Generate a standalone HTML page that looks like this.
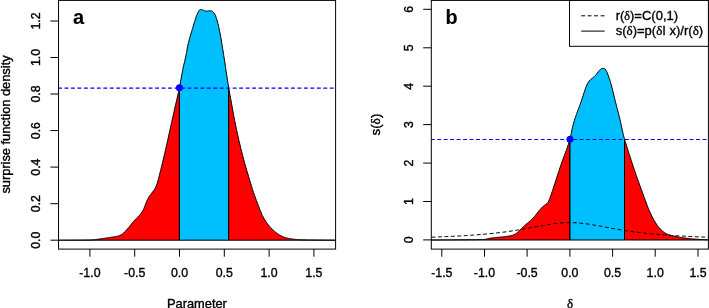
<!DOCTYPE html>
<html><head><meta charset="utf-8"><title>plot</title>
<style>html,body{margin:0;padding:0;background:#fff;}body{width:709px;height:308px;overflow:hidden;font-family:"Liberation Sans",sans-serif;}text{stroke:#000;stroke-width:0.35px;}text.r{stroke-width:0.4px;}svg{will-change:transform;}</style>
</head><body>
<svg width="709" height="308" viewBox="0 0 709 308" style="display:block">
<rect x="0" y="0" width="709" height="308" fill="#ffffff"/>
<g font-family="'Liberation Sans', sans-serif" font-size="12.35" fill="#000" stroke-linecap="butt">
<polygon points="58.5,240.2 58.5,240.2 59.5,240.2 60.5,240.2 61.5,240.2 62.5,240.2 63.5,240.2 64.5,240.2 65.5,240.2 66.5,240.2 67.5,240.2 68.5,240.2 69.5,240.2 70.5,240.2 71.5,240.2 72.5,240.2 73.5,240.1 74.5,240.1 75.5,240.1 76.5,240.1 77.5,240.1 78.5,240.1 79.5,240.1 80.0,240.1 80.5,240.1 81.5,240.1 82.5,240.1 83.5,240.1 84.5,240.0 85.5,240.0 86.5,240.0 87.5,240.0 88.5,240.0 89.5,239.9 90.5,239.9 91.2,239.9 91.5,239.9 92.5,239.8 93.5,239.8 94.5,239.7 95.5,239.5 96.5,239.4 97.5,239.3 98.5,239.1 99.5,239.0 100.5,238.8 101.5,238.7 101.6,238.7 102.5,238.6 103.5,238.4 104.5,238.3 105.0,238.2 105.5,238.1 106.5,238.0 107.5,237.8 108.5,237.7 109.5,237.5 110.5,237.4 111.5,237.2 111.5,237.2 112.5,237.0 113.5,236.9 114.5,236.8 115.5,236.6 116.5,236.4 117.5,236.2 118.0,236.1 118.5,235.9 119.5,235.6 120.5,235.1 121.5,234.5 121.9,234.3 122.5,233.9 123.5,233.1 124.5,232.1 125.1,231.6 125.5,231.1 126.5,230.0 127.5,228.8 128.4,227.8 128.6,227.6 129.6,226.4 130.6,225.1 131.0,224.5 131.6,223.8 132.6,222.6 133.6,221.4 133.6,221.3 134.6,220.2 135.6,219.2 136.6,218.2 136.8,217.9 137.6,217.2 138.6,216.2 139.6,215.2 140.1,214.6 140.6,214.0 141.6,212.6 142.4,211.3 142.6,211.1 143.6,209.2 143.9,208.5 144.6,206.9 145.4,204.6 145.6,204.2 146.6,201.6 147.3,199.9 147.6,199.4 148.6,197.5 149.6,195.9 149.9,195.4 150.6,194.5 151.6,193.3 152.5,192.1 152.6,192.0 153.6,190.7 154.6,189.2 155.1,188.2 155.6,187.3 156.6,185.0 157.0,183.8 157.6,182.1 158.4,179.1 158.6,178.5 159.6,174.5 159.7,173.9 160.6,170.5 160.8,169.5 161.6,166.4 162.6,162.3 163.1,160.0 163.6,158.1 164.6,153.9 165.6,149.6 166.4,145.9 166.6,145.2 167.6,140.8 168.6,136.2 169.6,131.6 170.6,127.1 170.9,125.5 171.6,122.6 172.6,118.1 173.6,113.7 174.6,109.2 175.5,105.0 175.6,104.8 176.6,100.4 177.6,96.1 178.6,91.7 179.4,87.7 179.4,240.2" fill="#ff0000" stroke="#000" stroke-width="1.0" stroke-linejoin="round"/>
<polygon points="228.6,240.2 228.6,87.8 229.6,93.0 230.5,98.0 230.6,98.3 231.6,103.8 232.5,109.0 232.6,109.3 233.6,114.9 234.5,120.0 234.6,120.3 235.6,125.1 236.6,129.8 236.6,130.0 237.6,134.4 238.6,138.9 238.8,140.0 239.6,143.2 240.6,147.4 241.2,150.0 241.6,151.4 242.6,155.3 243.6,159.1 243.8,160.0 244.6,162.8 245.6,166.3 246.6,169.8 246.6,170.0 247.6,173.2 248.6,176.5 249.6,179.8 249.6,180.0 250.6,183.2 251.6,186.5 252.5,189.5 252.6,189.7 253.6,192.7 254.5,195.4 254.6,195.5 255.6,198.3 256.4,200.6 256.6,201.0 257.6,203.6 258.4,205.8 258.6,206.2 259.6,208.8 260.3,210.7 260.6,211.3 261.6,213.7 262.3,215.4 262.6,215.9 263.6,217.8 264.6,219.5 264.9,220.1 265.6,221.1 266.6,222.5 267.4,223.7 267.6,223.9 268.6,225.2 269.6,226.4 270.0,226.9 270.6,227.5 271.6,228.6 272.6,229.6 272.6,229.6 273.6,230.5 274.6,231.4 275.2,231.9 275.6,232.2 276.6,233.0 277.6,233.7 278.6,234.4 279.6,235.0 279.9,235.2 280.6,235.6 281.6,236.1 282.6,236.5 283.6,237.0 284.6,237.3 284.8,237.4 285.6,237.6 286.6,237.9 287.6,238.2 288.6,238.4 289.6,238.6 289.7,238.6 290.6,238.7 291.6,238.9 292.6,239.0 293.6,239.2 294.6,239.3 294.7,239.3 295.6,239.4 296.6,239.5 297.6,239.6 298.6,239.7 299.6,239.7 299.6,239.7 300.6,239.7 301.6,239.8 302.6,239.8 303.6,239.8 304.6,239.8 305.6,239.8 306.6,239.9 307.6,239.9 308.6,239.9 309.6,239.9 310.6,239.9 311.6,239.9 312.6,239.9 313.6,239.9 314.6,239.9 315.6,240.0 316.6,240.0 317.6,240.0 318.6,240.0 319.0,240.0 319.6,240.0 320.6,240.0 321.6,240.0 322.6,240.0 323.6,240.1 324.6,240.1 325.6,240.1 326.6,240.1 327.6,240.1 328.6,240.1 329.6,240.1 330.6,240.1 331.6,240.2 332.6,240.2 333.6,240.2 334.6,240.2 335.6,240.2 335.6,240.2 335.6,240.2" fill="#ff0000" stroke="#000" stroke-width="1.0" stroke-linejoin="round"/>
<polygon points="179.4,240.2 179.4,87.7 179.6,87.0 180.6,81.6 181.6,76.0 182.6,70.6 183.0,68.3 183.6,65.7 184.6,61.5 185.6,57.2 186.3,53.7 186.6,52.4 187.6,46.7 187.9,45.0 188.6,42.2 189.6,38.5 190.1,36.5 190.6,34.9 191.6,31.6 192.3,29.2 192.6,28.4 193.6,25.0 194.5,21.9 194.6,21.7 195.6,18.6 196.4,16.1 196.6,15.7 197.6,13.3 198.2,12.0 198.6,11.4 199.6,9.9 199.6,9.9 200.6,9.5 201.1,9.4 201.6,9.5 202.6,9.9 203.3,10.2 203.6,10.3 204.6,10.8 205.5,11.1 205.6,11.1 206.6,11.1 207.6,11.0 207.6,11.0 208.6,10.9 209.6,10.7 209.8,10.7 210.6,10.8 211.6,11.0 211.6,11.0 212.6,11.5 213.5,12.4 213.6,12.5 214.6,13.8 215.0,14.6 215.6,15.9 216.4,18.3 216.6,18.8 217.6,22.1 217.9,23.4 218.6,26.3 219.3,30.0 219.6,31.2 220.6,36.0 220.8,37.3 221.6,42.1 222.0,45.0 222.6,48.3 223.6,54.4 223.7,55.3 224.6,60.8 225.6,67.6 225.9,69.9 226.6,74.3 227.6,81.1 228.6,87.5 228.6,87.8 228.6,240.2" fill="#00bfff" stroke="#000" stroke-width="1.0" stroke-linejoin="round"/>
<line x1="58.55" y1="88.0" x2="335.5" y2="88.0" stroke="#0000ff" stroke-width="1.25" stroke-dasharray="3.9 2.57" stroke-dashoffset="0.5"/>
<circle cx="179.4" cy="87.7" r="3.5" fill="#0000ff"/>
<rect x="58.55" y="0.4" width="277.05" height="248.7" fill="none" stroke="#000" stroke-width="1.0"/>
<line x1="89.9" y1="249.1" x2="89.9" y2="256.7" stroke="#000" stroke-width="1.0"/>
<text x="89.9" y="277.2" text-anchor="middle">-1.0</text>
<line x1="134.7" y1="249.1" x2="134.7" y2="256.7" stroke="#000" stroke-width="1.0"/>
<text x="134.7" y="277.2" text-anchor="middle">-0.5</text>
<line x1="179.5" y1="249.1" x2="179.5" y2="256.7" stroke="#000" stroke-width="1.0"/>
<text x="179.5" y="277.2" text-anchor="middle">0.0</text>
<line x1="224.3" y1="249.1" x2="224.3" y2="256.7" stroke="#000" stroke-width="1.0"/>
<text x="224.3" y="277.2" text-anchor="middle">0.5</text>
<line x1="269.1" y1="249.1" x2="269.1" y2="256.7" stroke="#000" stroke-width="1.0"/>
<text x="269.1" y="277.2" text-anchor="middle">1.0</text>
<line x1="313.9" y1="249.1" x2="313.9" y2="256.7" stroke="#000" stroke-width="1.0"/>
<text x="313.9" y="277.2" text-anchor="middle">1.5</text>
<line x1="50.4" y1="240.2" x2="58.55" y2="240.2" stroke="#000" stroke-width="1.0"/>
<text class="r" transform="translate(40.4,240.2) rotate(-90)" text-anchor="middle">0.0</text>
<line x1="50.4" y1="203.7" x2="58.55" y2="203.7" stroke="#000" stroke-width="1.0"/>
<text class="r" transform="translate(40.4,203.7) rotate(-90)" text-anchor="middle">0.2</text>
<line x1="50.4" y1="167.1" x2="58.55" y2="167.1" stroke="#000" stroke-width="1.0"/>
<text class="r" transform="translate(40.4,167.1) rotate(-90)" text-anchor="middle">0.4</text>
<line x1="50.4" y1="130.6" x2="58.55" y2="130.6" stroke="#000" stroke-width="1.0"/>
<text class="r" transform="translate(40.4,130.6) rotate(-90)" text-anchor="middle">0.6</text>
<line x1="50.4" y1="94.0" x2="58.55" y2="94.0" stroke="#000" stroke-width="1.0"/>
<text class="r" transform="translate(40.4,94.0) rotate(-90)" text-anchor="middle">0.8</text>
<line x1="50.4" y1="57.5" x2="58.55" y2="57.5" stroke="#000" stroke-width="1.0"/>
<text class="r" transform="translate(40.4,57.5) rotate(-90)" text-anchor="middle">1.0</text>
<line x1="50.4" y1="21.0" x2="58.55" y2="21.0" stroke="#000" stroke-width="1.0"/>
<text class="r" transform="translate(40.4,21.0) rotate(-90)" text-anchor="middle">1.2</text>
<text x="167.0" y="307.5" textLength="59.9" lengthAdjust="spacingAndGlyphs">Parameter</text>
<text class="r" transform="translate(9.7,193.6) rotate(-90)" textLength="138.2" lengthAdjust="spacingAndGlyphs">surprise function density</text>
<text x="73.1" y="24.3" font-weight="bold" font-size="20" style="stroke-width:0.1px">a</text>
<polygon points="431.3,240.0 431.3,240.0 432.3,240.0 433.3,240.0 434.3,240.0 435.3,240.0 436.3,240.0 437.3,240.0 438.3,240.0 439.3,240.0 440.3,239.9 441.3,239.9 442.3,239.9 443.3,239.9 444.3,239.9 445.3,239.9 446.3,239.9 447.3,239.9 448.3,239.9 449.3,239.9 450.3,239.9 451.3,239.9 452.3,239.9 453.3,239.9 454.3,239.8 455.3,239.8 456.3,239.8 457.3,239.8 458.3,239.8 459.3,239.8 459.6,239.8 460.3,239.8 461.3,239.8 462.3,239.8 463.3,239.8 464.3,239.8 465.3,239.8 466.3,239.8 467.3,239.7 468.3,239.7 469.3,239.7 470.3,239.7 471.3,239.7 472.3,239.7 473.3,239.7 474.3,239.7 475.3,239.7 476.3,239.7 477.3,239.6 478.3,239.6 479.3,239.6 480.0,239.6 480.3,239.6 481.3,239.6 482.3,239.5 483.3,239.5 484.3,239.4 485.3,239.3 486.3,239.1 487.3,238.9 488.3,238.6 489.3,238.4 489.6,238.3 490.3,238.2 491.3,238.0 492.3,237.9 493.3,237.8 494.3,237.7 495.3,237.6 496.3,237.5 497.3,237.4 498.1,237.3 498.3,237.3 499.3,237.2 500.3,237.1 501.3,237.0 502.3,236.9 503.3,236.8 504.3,236.7 505.3,236.6 506.3,236.4 506.6,236.4 507.3,236.3 508.3,236.1 509.3,236.0 510.3,235.8 511.3,235.5 512.3,235.3 512.5,235.2 513.3,234.9 514.3,234.5 515.3,234.0 515.9,233.7 516.3,233.4 517.3,232.6 518.3,231.7 518.8,231.2 519.3,230.7 520.3,229.8 521.3,228.8 521.7,228.4 522.3,227.8 523.3,226.8 524.3,225.9 524.7,225.5 525.3,225.0 526.3,224.1 527.3,223.3 527.6,223.0 528.3,222.4 529.3,221.6 530.3,220.8 530.5,220.6 531.3,219.9 532.3,218.9 533.3,217.8 533.4,217.7 534.3,216.7 535.3,215.5 536.3,214.3 537.3,213.0 538.3,211.7 539.3,210.4 540.3,209.3 541.3,208.2 541.5,208.0 542.3,207.2 543.3,206.2 543.5,206.0 544.3,205.4 545.3,204.8 545.8,204.4 546.3,204.0 547.3,203.2 548.1,202.3 548.3,202.0 549.3,199.6 549.7,198.6 550.3,197.1 551.2,194.6 551.3,194.3 552.3,191.3 552.6,190.4 553.3,188.2 553.7,186.9 554.3,185.1 554.7,183.9 555.3,182.1 555.8,180.5 556.3,178.9 557.3,175.8 558.3,172.9 558.8,171.4 559.3,169.9 560.3,166.8 560.7,165.6 561.3,163.9 562.3,161.0 562.6,160.2 563.3,158.3 564.3,155.7 564.6,154.9 565.3,153.0 566.3,150.4 566.5,149.8 567.3,147.5 568.3,144.5 569.3,141.6 570.0,139.3 570.0,240.0" fill="#ff0000" stroke="#000" stroke-width="1.0" stroke-linejoin="round"/>
<polygon points="624.5,240.0 624.5,139.3 625.3,141.9 626.3,145.1 627.3,148.1 627.9,150.0 628.3,151.3 629.3,154.4 630.3,157.5 631.1,160.0 631.3,160.6 632.3,163.7 633.3,166.7 634.3,169.7 634.4,170.0 635.3,172.6 636.3,175.5 637.3,178.3 637.9,180.0 638.3,181.1 639.3,183.9 640.3,186.7 641.3,189.5 641.5,190.0 642.3,192.2 643.3,194.9 644.3,197.6 645.2,200.0 645.3,200.3 646.3,203.0 647.3,205.8 647.7,206.8 648.3,208.3 649.3,210.7 650.3,212.9 650.4,213.1 651.3,215.0 652.3,217.0 653.0,218.3 653.3,218.9 654.3,220.6 655.3,222.3 655.6,222.8 656.3,223.9 657.3,225.4 658.2,226.6 658.3,226.7 659.3,227.9 660.3,229.0 660.8,229.5 661.3,230.0 662.3,230.9 663.3,231.7 663.4,231.8 664.3,232.5 665.3,233.1 666.0,233.5 666.3,233.7 667.3,234.1 668.3,234.6 669.2,234.9 669.3,234.9 670.3,235.2 671.3,235.5 672.3,235.8 673.3,236.0 673.8,236.1 674.3,236.2 675.3,236.4 676.3,236.6 677.3,236.8 678.3,237.0 679.3,237.2 680.0,237.3 680.3,237.3 681.3,237.5 682.3,237.6 683.3,237.8 684.3,237.9 685.3,238.1 686.3,238.2 687.3,238.3 688.3,238.4 689.3,238.6 690.3,238.7 691.3,238.8 692.3,238.9 693.3,238.9 694.0,239.0 694.3,239.0 695.3,239.1 696.3,239.2 697.3,239.2 698.3,239.3 699.3,239.4 700.3,239.4 701.3,239.5 702.3,239.6 703.3,239.6 704.3,239.7 705.3,239.7 706.3,239.7 707.3,239.8 708.3,239.8 708.4,239.8 708.4,240.0" fill="#ff0000" stroke="#000" stroke-width="1.0" stroke-linejoin="round"/>
<polygon points="570.0,240.0 570.0,139.3 570.3,138.1 571.3,133.2 572.3,128.2 572.5,127.3 573.3,124.2 574.3,120.7 574.5,120.0 575.3,117.6 576.3,114.8 576.8,113.4 577.3,112.0 578.3,109.4 579.3,106.8 580.1,104.6 580.3,104.0 581.3,101.1 582.3,98.0 583.0,95.9 583.3,95.0 584.3,91.9 585.3,88.9 585.9,87.3 586.3,86.3 587.3,84.1 588.3,82.3 588.5,82.0 589.3,80.9 590.3,79.8 591.2,79.0 591.3,78.9 592.3,78.2 593.3,77.5 594.0,76.9 594.3,76.6 595.3,75.5 596.3,74.3 596.7,73.8 597.3,73.0 598.3,71.6 599.3,70.4 599.5,70.2 600.3,69.5 601.3,68.7 602.3,68.4 603.3,68.5 604.3,68.6 604.7,68.7 605.3,69.1 606.3,70.8 606.7,71.5 607.3,72.8 608.3,75.6 608.8,77.0 609.3,78.4 610.3,81.5 611.1,84.2 611.3,84.9 612.3,88.8 613.3,93.0 614.0,95.9 614.3,97.1 615.3,101.2 616.3,105.2 616.9,107.6 617.3,109.2 618.3,112.9 619.3,116.8 619.9,119.2 620.3,120.9 621.3,125.6 622.3,130.2 622.8,132.4 623.3,134.5 624.3,138.4 624.5,139.3 624.5,240.0" fill="#00bfff" stroke="#000" stroke-width="1.0" stroke-linejoin="round"/>
<polyline points="431.5,237.2 433.8,237.1 436.2,237.0 438.5,236.9 440.8,236.8 443.2,236.7 445.5,236.6 447.8,236.5 450.2,236.4 452.5,236.3 454.8,236.2 457.2,236.1 459.5,236.0 461.8,235.8 464.2,235.7 466.5,235.5 468.8,235.4 471.2,235.2 473.5,235.1 475.8,234.9 478.1,234.7 480.5,234.5 482.8,234.3 485.1,234.1 487.5,233.9 489.8,233.7 492.1,233.4 494.5,233.2 496.8,232.9 499.1,232.7 501.5,232.4 503.8,232.1 506.1,231.8 508.5,231.4 510.8,231.1 513.1,230.8 515.5,230.4 517.8,230.0 520.1,229.6 522.5,229.2 524.8,228.8 527.1,228.4 529.5,228.0 531.8,227.6 534.1,227.1 536.5,226.7 538.8,226.3 541.1,225.8 543.5,225.4 545.8,225.0 548.1,224.6 550.5,224.3 552.8,223.9 555.1,223.6 557.4,223.3 559.8,223.1 562.1,222.9 564.4,222.8 566.8,222.7 569.1,222.6 571.4,222.7 573.8,222.7 576.1,222.8 578.4,223.0 580.8,223.2 583.1,223.4 585.4,223.7 587.8,224.0 590.1,224.4 592.4,224.8 594.8,225.2 597.1,225.6 599.4,226.0 601.8,226.4 604.1,226.9 606.4,227.3 608.8,227.7 611.1,228.1 613.4,228.6 615.8,229.0 618.1,229.4 620.4,229.8 622.8,230.2 625.1,230.5 627.4,230.9 629.8,231.2 632.1,231.6 634.4,231.9 636.7,232.2 639.1,232.5 641.4,232.8 643.7,233.0 646.1,233.3 648.4,233.5 650.7,233.8 653.1,234.0 655.4,234.2 657.7,234.4 660.1,234.6 662.4,234.8 664.7,235.0 667.1,235.1 669.4,235.3 671.7,235.5 674.1,235.6 676.4,235.7 678.7,235.9 681.1,236.0 683.4,236.1 685.7,236.3 688.1,236.4 690.4,236.5 692.7,236.6 695.1,236.7 697.4,236.8 699.7,236.9 702.1,237.0 704.4,237.0 706.7,237.1 709.1,237.2" fill="none" stroke="#000" stroke-width="1.0" stroke-dasharray="3.9 2.57"/>
<line x1="431.3" y1="139.45" x2="708.4" y2="139.45" stroke="#0000ff" stroke-width="1.1" stroke-dasharray="3.9 2.57" stroke-dashoffset="0.5"/>
<circle cx="570.0" cy="139.35" r="3.5" fill="#0000ff"/>
<rect x="431.3" y="0.4" width="277.09999999999997" height="248.7" fill="none" stroke="#000" stroke-width="1.0"/>
<line x1="441.8" y1="249.1" x2="441.8" y2="256.7" stroke="#000" stroke-width="1.0"/>
<text x="441.8" y="277.2" text-anchor="middle">-1.5</text>
<line x1="484.5" y1="249.1" x2="484.5" y2="256.7" stroke="#000" stroke-width="1.0"/>
<text x="484.5" y="277.2" text-anchor="middle">-1.0</text>
<line x1="527.1" y1="249.1" x2="527.1" y2="256.7" stroke="#000" stroke-width="1.0"/>
<text x="527.1" y="277.2" text-anchor="middle">-0.5</text>
<line x1="569.9" y1="249.1" x2="569.9" y2="256.7" stroke="#000" stroke-width="1.0"/>
<text x="569.9" y="277.2" text-anchor="middle">0.0</text>
<line x1="612.6" y1="249.1" x2="612.6" y2="256.7" stroke="#000" stroke-width="1.0"/>
<text x="612.6" y="277.2" text-anchor="middle">0.5</text>
<line x1="655.2" y1="249.1" x2="655.2" y2="256.7" stroke="#000" stroke-width="1.0"/>
<text x="655.2" y="277.2" text-anchor="middle">1.0</text>
<line x1="698.0" y1="249.1" x2="698.0" y2="256.7" stroke="#000" stroke-width="1.0"/>
<text x="698.0" y="277.2" text-anchor="middle">1.5</text>
<line x1="423.2" y1="239.9" x2="431.3" y2="239.9" stroke="#000" stroke-width="1.0"/>
<text class="r" transform="translate(413.2,239.9) rotate(-90)" text-anchor="middle">0</text>
<line x1="423.2" y1="201.5" x2="431.3" y2="201.5" stroke="#000" stroke-width="1.0"/>
<text class="r" transform="translate(413.2,201.5) rotate(-90)" text-anchor="middle">1</text>
<line x1="423.2" y1="163.1" x2="431.3" y2="163.1" stroke="#000" stroke-width="1.0"/>
<text class="r" transform="translate(413.2,163.1) rotate(-90)" text-anchor="middle">2</text>
<line x1="423.2" y1="124.6" x2="431.3" y2="124.6" stroke="#000" stroke-width="1.0"/>
<text class="r" transform="translate(413.2,124.6) rotate(-90)" text-anchor="middle">3</text>
<line x1="423.2" y1="86.2" x2="431.3" y2="86.2" stroke="#000" stroke-width="1.0"/>
<text class="r" transform="translate(413.2,86.2) rotate(-90)" text-anchor="middle">4</text>
<line x1="423.2" y1="47.8" x2="431.3" y2="47.8" stroke="#000" stroke-width="1.0"/>
<text class="r" transform="translate(413.2,47.8) rotate(-90)" text-anchor="middle">5</text>
<line x1="423.2" y1="9.3" x2="431.3" y2="9.3" stroke="#000" stroke-width="1.0"/>
<text class="r" transform="translate(413.2,9.3) rotate(-90)" text-anchor="middle">6</text>
<text x="570" y="307.8" text-anchor="middle" font-family="'Liberation Serif', serif" font-size="13">δ</text>
<text class="r" transform="translate(379.8,124.6) rotate(-90)" text-anchor="middle" font-size="13.4">s(<tspan font-family="'Liberation Serif', serif">δ</tspan>)</text>
<text x="445.6" y="24.3" font-weight="bold" font-size="19.8" style="stroke-width:0.1px">b</text>
<rect x="569.5" y="0.4" width="138.89999999999998" height="45.9" fill="#fff" stroke="#000" stroke-width="1.0"/>
<line x1="581.2" y1="15.8" x2="604.7" y2="15.8" stroke="#000" stroke-width="1.0" stroke-dasharray="3.9 2.57"/>
<line x1="581.2" y1="31.1" x2="604.7" y2="31.1" stroke="#000" stroke-width="1.0"/>
<text x="615.7" y="19.9" font-size="13">r(<tspan font-family="'Liberation Serif', serif" font-size="12">δ</tspan>)=C(0,1)</text>
<text x="615.7" y="35.0" font-size="13">s(<tspan font-family="'Liberation Serif', serif">δ</tspan>)=p(<tspan font-family="'Liberation Serif', serif">δ</tspan>I x)/r(<tspan font-family="'Liberation Serif', serif">δ</tspan>)</text>
</g></svg>
</body></html>
